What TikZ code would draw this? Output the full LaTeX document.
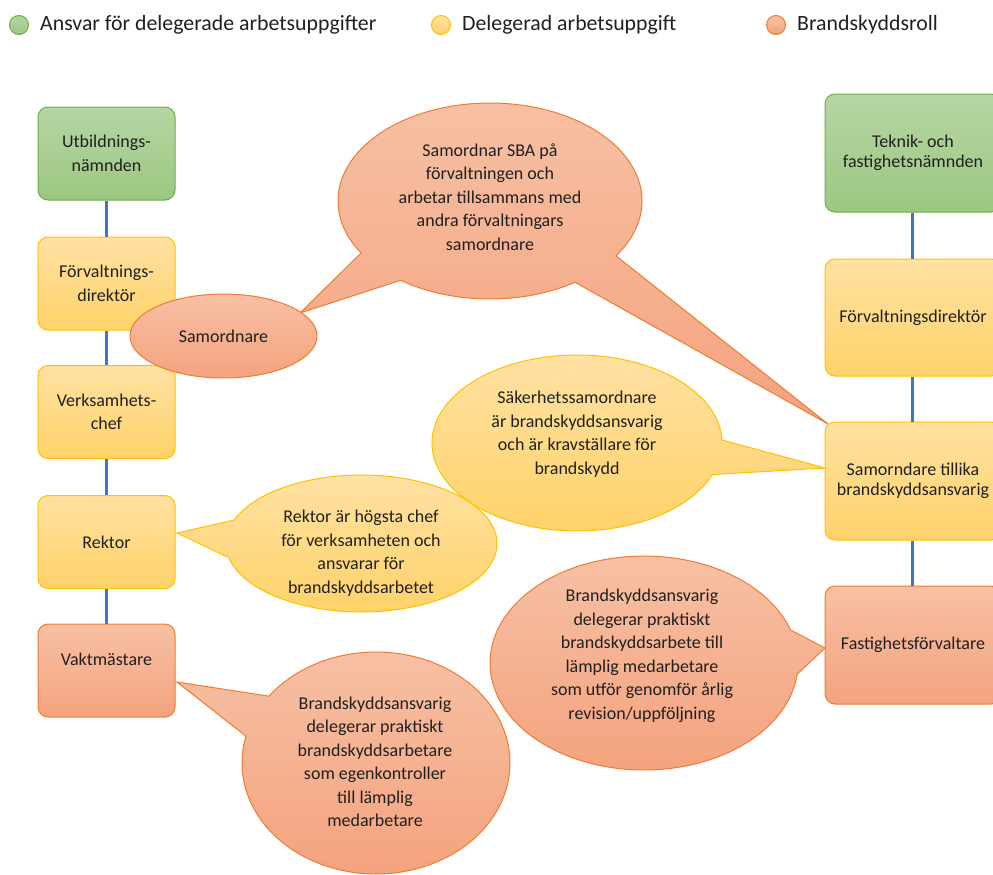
\documentclass[tikz,border=0pt]{standalone}
\usepackage{fontspec}
\setmainfont{Carlito}
\newcommand\bxfont{\fontsize{18}{23.5}\selectfont}
\newcommand\bxmid{\fontsize{18}{20}\selectfont}
\newcommand\lgfont{\fontsize{21.8}{24}\selectfont}
\definecolor{textcol}{HTML}{202020}
\definecolor{grnT}{HTML}{B5D6A3}
\definecolor{grnD}{HTML}{9CC782}
\definecolor{grnB}{HTML}{70AD47}
\definecolor{ylwT}{HTML}{FFE1A2}
\definecolor{ylwD}{HTML}{FFD36A}
\definecolor{ylwB}{HTML}{FFC000}
\definecolor{orgT}{HTML}{F7C0A4}
\definecolor{orgD}{HTML}{F4A37E}
\definecolor{orgB}{HTML}{ED7D31}
\definecolor{lineB}{HTML}{4472C4}
\begin{document}
\begin{tikzpicture}[x=1pt,y=-1pt,
  txt/.style={text=textcol, align=center, font=\bxfont},
  boxbase/.style={rounded corners=10pt, line width=1pt, inner sep=0pt, txt},
  greenbox/.style={boxbase, draw=grnB, top color=grnT, bottom color=grnD},
  yellowbox/.style={boxbase, draw=ylwB, top color=ylwT, bottom color=ylwD},
  orangebox/.style={boxbase, draw=orgB, top color=orgT, bottom color=orgD},
  leftbox/.style={minimum width=137pt, minimum height=93pt},
  rightbox/.style={minimum width=176pt, minimum height=118pt, font=\bxmid},
  yshape/.style={draw=ylwB, line width=1pt, top color=ylwT, bottom color=ylwD},
  oshape/.style={draw=orgB, line width=1pt, top color=orgT, bottom color=orgD},
  conn/.style={draw=lineB, line width=2.2pt},
  legtxt/.style={anchor=west, text=textcol, font=\lgfont, inner sep=0pt}
]
\clip (0,0) rectangle (993,875);

% legend
\shadedraw[draw=grnB, line width=1pt, top color=grnT, bottom color=grnD] (19,25) circle[radius=9.5];
\node[legtxt] (lg1) at (40,25) {Ansvar för delegerade arbetsuppgifter};
\shadedraw[draw=ylwB, line width=1pt, top color=ylwT, bottom color=ylwD] (441,25) circle[radius=9.5];
\node[legtxt] (lg2) at (462,25) {Delegerad arbetsuppgift};
\shadedraw[draw=orgB, line width=1pt, top color=orgT, bottom color=orgD] (776,25) circle[radius=9.5];
\node[legtxt] (lg3) at (797,25) {Brandskyddsroll};

% left column
\node[greenbox, leftbox] (b1) at (106.5,153.5) {Utbildnings-\\nämnden};
\node[yellowbox, leftbox] (b2) at (106.5,283.5) {Förvaltnings-\\direktör};
\node[yellowbox, leftbox] (b3) at (106.5,412) {Verksamhets-\\chef};
\node[yellowbox, leftbox] (b4) at (106.5,542) {Rektor};
\node[orangebox, leftbox] (b5) at (106.5,670.5) {Vaktmästare\\[-9pt]\strut};
\draw[conn] (b1.south) -- (b2.north);
\draw[conn] (b2.south) -- (b3.north);
\draw[conn] (b3.south) -- (b4.north);
\draw[conn] (b4.south) -- (b5.north);

% right column
\node[greenbox, rightbox] (r1) at (913,153) {Teknik- och\\fastighetsnämnden};
\node[yellowbox, rightbox, minimum height=117pt] (r2) at (913,317.5) {Förvaltningsdirektör};
\node[yellowbox, rightbox] (r3) at (913,481) {Samorndare tillika\\brandskyddsansvarig};
\node[orangebox, rightbox] (r4) at (913,645) {Fastighetsförvaltare};
\draw[conn] ([xshift=-0.5pt]r1.south) -- ([xshift=-0.5pt]r2.north);
\draw[conn] ([xshift=-0.5pt]r2.south) -- ([xshift=-0.5pt]r3.north);
\draw[conn] ([xshift=-0.5pt]r3.south) -- ([xshift=-0.5pt]r4.north);

% callout A (two tails)
\shadedraw[oshape, line join=miter] (828,424)
  -- plot[domain=56:126, samples=60] ({490+152*cos(\x)},{201+98*sin(\x)})
  -- (300,313)
  -- plot[domain=148:394, samples=160] ({490+152*cos(\x)},{201+98*sin(\x)})
  -- cycle;
\node[txt] (ta) at (490,197) {Samordnar SBA på\\förvaltningen och\\arbetar tillsammans med\\andra förvaltningars\\samordnare};

% Samordnare ellipse
\shadedraw[oshape] (223.5,336) ellipse[x radius=93.5, y radius=42];
\node[txt] (ts) at (223.5,336) {Samordnare};

% callout B
\shadedraw[yshape] (825,468)
  -- plot[domain=21:358, samples=160] ({577+145*cos(\x)},{443+88*sin(\x)})
  -- cycle;
\node[txt] (tb) at (577,434) {Säkerhetssamordnare\\är brandskyddsansvarig\\och är kravställare för\\brandskydd};

% callout C
\shadedraw[yshape] (177,533)
  -- plot[domain=200:528, samples=160] ({361.5+135.5*cos(\x)},{543.5+68.5*sin(\x)})
  -- cycle;
\node[txt] (tc) at (361,553) {Rektor är högsta chef\\för verksamheten och\\ansvarar för\\brandskyddsarbetet};

% callout D
\shadedraw[oshape] (825,648)
  -- plot[domain=6:342, samples=160] ({644+154*cos(\x)},{663+107*sin(\x)})
  -- cycle;
\node[txt] (td) at (642,656) {Brandskyddsansvarig\\delegerar praktiskt\\brandskyddsarbete till\\lämplig medarbetare\\som utför genomför årlig\\revision/uppföljning};

% callout E
\shadedraw[oshape] (177,682)
  -- plot[domain=217:554, samples=160] ({376+134*cos(\x)},{763+111*sin(\x)})
  -- cycle;
\node[txt] (te) at (375,762) {Brandskyddsansvarig\\delegerar praktiskt\\brandskyddsarbetare\\som egenkontroller\\till lämplig\\medarbetare};
\end{tikzpicture}
\end{document}
